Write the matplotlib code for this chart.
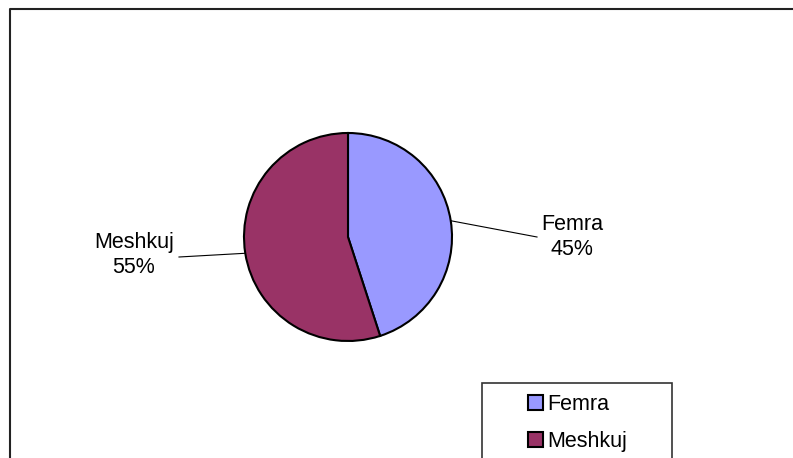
import numpy as np
import matplotlib
matplotlib.use("Agg")
import matplotlib.pyplot as plt
from matplotlib.lines import Line2D
from matplotlib.patches import Rectangle

plt.rcParams['font.family'] = ['Liberation Sans', 'DejaVu Sans']

# --- data ---
labels = ["Femra", "Meshkuj"]
shares = [45, 55]
colors = ["#9999FF", "#993366"]

# --- layout (pixel coords, origin bottom-left) ---
W, H = 793, 458
pie_center = (348, 221)
pie_radius = 104
label_pos = {"Femra": (572, 221), "Meshkuj": (134, 203)}
leader_end = {"Femra": (537, 221), "Meshkuj": (179, 201)}

fig = plt.figure(figsize=(W / 100, H / 100), dpi=100)
ax = fig.add_axes([0, 0, 1, 1])

wedges, _ = ax.pie(shares, colors=colors, startangle=90, counterclock=False,
                   center=pie_center, radius=pie_radius,
                   wedgeprops=dict(edgecolor="black", linewidth=1.5))
ax.set_xlim(0, W)
ax.set_ylim(0, H)
ax.set_aspect("equal")
ax.axis("off")

# labels with leader lines from the middle of each slice
total = sum(shares)
for w, lab, val in zip(wedges, labels, shares):
    mid = np.deg2rad((w.theta1 + w.theta2) / 2)
    x0 = pie_center[0] + pie_radius * np.cos(mid)
    y0 = pie_center[1] + pie_radius * np.sin(mid)
    ax.plot([x0, leader_end[lab][0]], [y0, leader_end[lab][1]],
            color="black", lw=0.8)
    tx, ty = label_pos[lab]
    ax.text(tx, ty, f"{lab}\n{100 * val / total:.0f}%", ha="center",
            va="center", fontsize=15.5, linespacing=1.3)

# legend box (cut off at bottom, like the original)
ax.add_patch(Rectangle((482, -20), 190, 95, facecolor="white",
                       edgecolor="#333333", lw=1.2, zorder=3))
leg = ax.legend(wedges, labels, loc="upper left", frameon=False,
                bbox_to_anchor=(528 / W, 64 / H), fontsize=15.5,
                handlelength=0.7, handleheight=0.7, handletextpad=0.2,
                labelspacing=0.75, borderpad=0, borderaxespad=0)
leg.set_zorder(4)

# outer frame: top and left lines only
fig.add_artist(Line2D([10 / W, 10 / W, 1], [0, 449 / H, 449 / H],
                      transform=fig.transFigure, color="#222222", lw=1.5))

fig.savefig("out.png", dpi=100)
